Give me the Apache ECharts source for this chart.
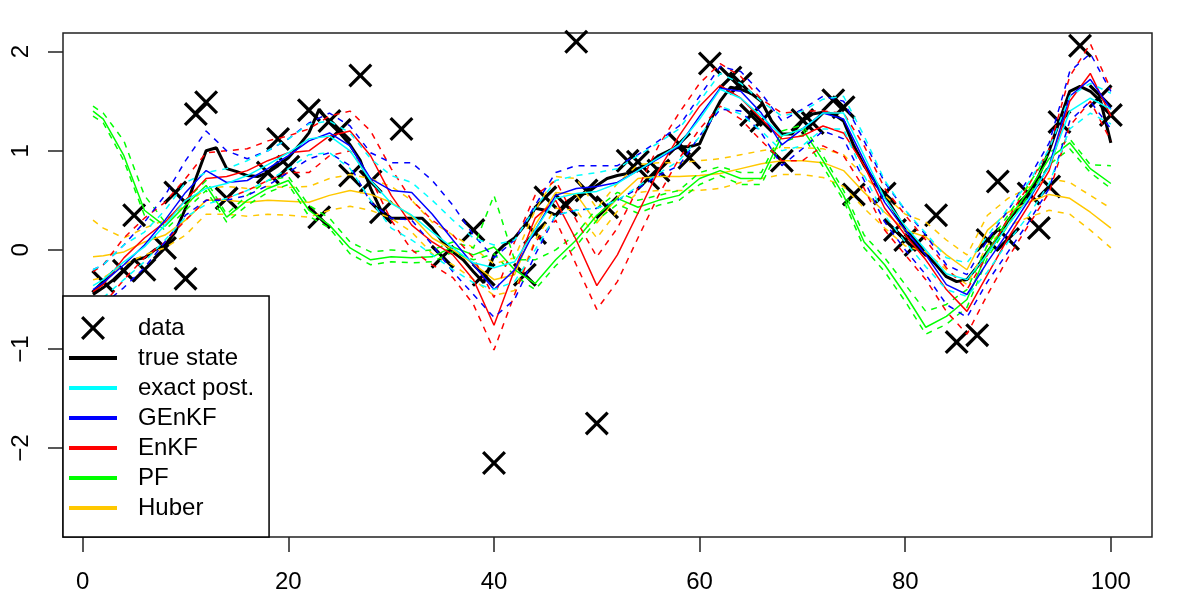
<!DOCTYPE html>
<html>
<head>
<meta charset="utf-8">
<script src="https://cdn.jsdelivr.net/npm/echarts@6/dist/echarts.min.js"></script>
<style>
  html, body { margin: 0; background: #fff; }
  #chart { width: 1200px; height: 600px; }
</style>
</head>
<body>
<div id="chart"></div>
<script>
// observations (time, value)
const dataT = [2, 4, 5, 6, 8, 9, 10, 11, 12, 14, 18, 19, 20, 22, 23, 24, 25, 26, 27, 28, 29, 31, 35, 38, 39, 40,
  43, 44, 45, 47, 48, 49, 50, 51, 53, 54, 55, 56, 58, 59, 61, 63, 64, 65, 66, 68, 70, 71, 73, 74, 75,
  78, 79, 80, 81, 83, 85, 87, 88, 89, 90, 92, 93, 94, 95, 97, 99, 100];
const dataY = [-0.32, -0.21, 0.35, -0.2, 0.02, 0.58, -0.29, 1.37, 1.49, 0.52, 0.78, 1.12, 0.84, 1.41, 0.33, 1.3, 1.21, 0.75, 1.76, 0.69, 0.38, 1.22, -0.07, 0.2, -0.25, -2.15,
  -0.25, 0.17, 0.53, 0.45, 2.1, 0.6, -1.75, 0.43, 0.9, 0.89, 0.72, 0.8, 1.07, 0.93, 1.88, 1.74, 1.68, 1.36, 1.3, 0.9, 1.31, 1.28, 1.51, 1.44, 0.56,
  0.57, 0.2, 0.1, 0.05, 0.35, -0.93, -0.86, 0.1, 0.69, 0.11, 0.57, 0.22, 0.64, 1.29, 2.06, 1.55, 1.36];

// true state, t = 1..100
const trueT = Array.from({ length: 100 }, (_, i) => i + 1);
const trueY = [-0.45, -0.38, -0.3, -0.2, -0.1, -0.08, 0.0, 0.05, 0.18, 0.42,
  0.72, 1.0, 1.03, 0.82, 0.79, 0.75, 0.74, 0.78, 0.85, 0.93,
  1.05, 1.18, 1.42, 1.28, 1.18, 1.06, 0.9, 0.62, 0.4, 0.32,
  0.32, 0.32, 0.32, 0.22, 0.08, -0.02, -0.1, -0.22, -0.33, -0.05,
  0.05, 0.12, 0.25, 0.42, 0.4, 0.35, 0.48, 0.55, 0.57, 0.65,
  0.72, 0.75, 0.77, 0.82, 0.86, 0.95, 1.0, 1.04, 1.04, 1.07,
  1.3, 1.5, 1.64, 1.62, 1.58, 1.5, 1.3, 1.17, 1.17, 1.3,
  1.37, 1.39, 1.37, 1.3, 1.05, 0.85, 0.7, 0.55, 0.38, 0.2,
  0.1, -0.04, -0.15, -0.27, -0.32, -0.3, -0.17, -0.02, 0.12, 0.3,
  0.42, 0.55, 0.75, 1.0, 1.3, 1.6, 1.65, 1.6, 1.5, 1.08];

// filter estimates on a common time grid
const gridT = [1, 2, 4, 6, 8, 10, 12, 14, 16, 18, 20, 22, 24, 26, 28, 30, 32, 34, 36, 38, 40, 42, 44, 46, 48, 50,
  52, 54, 56, 58, 60, 62, 64, 66, 68, 70, 72, 74, 76, 78, 80, 82, 84, 86, 88, 90, 92, 94, 96, 98, 100];

const exactMean = [-0.36, -0.3, -0.12, 0.03, 0.25, 0.5, 0.62, 0.67, 0.75, 0.86, 0.98, 1.12, 1.15, 1.0, 0.7, 0.47, 0.35, 0.18, 0.02, -0.13, -0.18, -0.12, 0.2, 0.52, 0.57, 0.59,
  0.67, 0.8, 0.93, 1.06, 1.32, 1.62, 1.53, 1.35, 1.15, 1.22, 1.38, 1.38, 0.95, 0.52, 0.24, 0.0, -0.24, -0.3, -0.04, 0.25, 0.52, 0.84, 1.4, 1.53, 1.42];
const exactUp = [-0.2, -0.15, 0.05, 0.18, 0.4, 0.68, 0.78, 0.82, 0.9, 1.0, 1.12, 1.27, 1.3, 1.18, 0.92, 0.75, 0.68, 0.5, 0.3, 0.12, 0.05, 0.1, 0.42, 0.7, 0.75, 0.78,
  0.82, 0.95, 1.08, 1.22, 1.5, 1.78, 1.68, 1.5, 1.35, 1.4, 1.52, 1.55, 1.15, 0.7, 0.4, 0.17, -0.08, -0.13, 0.14, 0.42, 0.68, 1.02, 1.55, 1.68, 1.58];
const exactLo = [-0.55, -0.48, -0.3, -0.12, 0.1, 0.33, 0.46, 0.52, 0.6, 0.7, 0.82, 0.96, 0.98, 0.82, 0.5, 0.22, 0.1, -0.05, -0.2, -0.33, -0.4, -0.32, 0.0, 0.35, 0.4, 0.42,
  0.5, 0.64, 0.77, 0.9, 1.14, 1.45, 1.37, 1.2, 1.0, 1.05, 1.22, 1.22, 0.75, 0.35, 0.08, -0.17, -0.4, -0.47, -0.22, 0.08, 0.35, 0.67, 1.22, 1.38, 1.27];

const genkfMean = [-0.4, -0.33, -0.15, 0.05, 0.3, 0.58, 0.8, 0.68, 0.7, 0.82, 0.95, 1.1, 1.18, 1.05, 0.72, 0.6, 0.58, 0.36, 0.1, -0.15, -0.4, -0.2, 0.2, 0.55, 0.62, 0.64,
  0.68, 0.8, 0.92, 1.05, 1.35, 1.63, 1.6, 1.38, 1.06, 1.22, 1.38, 1.32, 0.9, 0.48, 0.2, -0.05, -0.35, -0.45, -0.12, 0.18, 0.5, 0.85, 1.55, 1.72, 1.42];
const genkfUp = [-0.2, -0.15, 0.05, 0.28, 0.55, 0.9, 1.2, 1.0, 0.92, 1.0, 1.12, 1.28, 1.38, 1.25, 0.98, 0.88, 0.88, 0.7, 0.45, 0.15, -0.08, 0.1, 0.45, 0.78, 0.85, 0.85,
  0.85, 0.96, 1.1, 1.25, 1.55, 1.85, 1.8, 1.58, 1.3, 1.42, 1.55, 1.5, 1.1, 0.68, 0.4, 0.15, -0.15, -0.25, 0.1, 0.4, 0.72, 1.08, 1.8, 1.98, 1.6];
const genkfLo = [-0.62, -0.55, -0.38, -0.18, 0.08, 0.35, 0.5, 0.5, 0.55, 0.65, 0.78, 0.92, 0.98, 0.85, 0.48, 0.32, 0.3, 0.05, -0.22, -0.45, -0.68, -0.5, -0.05, 0.35, 0.4, 0.42,
  0.5, 0.62, 0.75, 0.85, 1.15, 1.42, 1.4, 1.18, 0.85, 1.02, 1.2, 1.12, 0.7, 0.28, 0.0, -0.25, -0.55, -0.68, -0.32, -0.02, 0.28, 0.62, 1.3, 1.5, 1.22];

const enkfMean = [-0.42, -0.35, -0.08, 0.12, 0.28, 0.5, 0.72, 0.74, 0.8, 0.9, 0.98, 1.0, 1.15, 1.2, 0.95, 0.55, 0.25, 0.08, -0.05, -0.3, -0.76, -0.2, 0.32, 0.5, 0.1, -0.36,
  -0.05, 0.37, 0.8, 1.15, 1.45, 1.66, 1.53, 1.32, 1.12, 1.15, 1.25, 1.18, 0.85, 0.42, 0.15, -0.1, -0.4, -0.62, -0.25, 0.12, 0.45, 0.8, 1.5, 1.78, 1.35];
const enkfUp = [-0.22, -0.15, 0.12, 0.32, 0.48, 0.72, 0.98, 1.0, 1.02, 1.1, 1.15, 1.22, 1.35, 1.4, 1.2, 0.82, 0.5, 0.3, 0.15, -0.08, -0.48, 0.08, 0.55, 0.7, 0.3, -0.07,
  0.22, 0.62, 1.05, 1.38, 1.68, 1.88, 1.75, 1.52, 1.38, 1.4, 1.4, 1.38, 1.05, 0.62, 0.35, 0.1, -0.18, -0.4, -0.05, 0.32, 0.65, 1.02, 1.75, 2.08, 1.62];
const enkfLo = [-0.62, -0.55, -0.3, -0.08, 0.08, 0.3, 0.5, 0.52, 0.6, 0.7, 0.78, 0.78, 0.95, 1.0, 0.72, 0.3, 0.0, -0.15, -0.28, -0.55, -1.01, -0.45, 0.08, 0.3, -0.15, -0.6,
  -0.32, 0.12, 0.55, 0.92, 1.22, 1.45, 1.32, 1.1, 0.9, 0.9, 1.05, 0.95, 0.62, 0.2, -0.05, -0.3, -0.62, -0.85, -0.45, -0.08, 0.25, 0.58, 1.25, 1.5, 1.1];

const pfMean = [1.4, 1.32, 0.95, 0.4, 0.24, 0.45, 0.65, 0.33, 0.5, 0.62, 0.7, 0.4, 0.25, 0.02, -0.1, -0.07, -0.08, -0.07, 0.03, -0.05, 0.03, -0.2, -0.34, -0.1, 0.1, 0.35,
  0.52, 0.43, 0.5, 0.55, 0.72, 0.8, 0.72, 0.72, 1.15, 1.22, 0.9, 0.55, 0.08, -0.15, -0.45, -0.78, -0.67, -0.5, -0.02, 0.3, 0.6, 0.92, 1.08, 0.82, 0.67];
const pfUp = [1.45, 1.38, 1.1, 0.55, 0.28, 0.5, 0.7, 0.36, 0.55, 0.7, 0.74, 0.45, 0.32, 0.08, -0.02, 0.0, -0.02, 0.0, 0.08, 0.02, 0.55, -0.1, -0.1, 0.0, 0.16, 0.42,
  0.58, 0.5, 0.55, 0.6, 0.78, 0.84, 0.78, 0.78, 1.2, 1.26, 0.95, 0.6, 0.15, -0.08, -0.35, -0.62, -0.55, -0.4, 0.05, 0.35, 0.66, 0.98, 1.12, 0.86, 0.85];
const pfLo = [1.35, 1.28, 0.9, 0.35, 0.2, 0.4, 0.6, 0.28, 0.45, 0.58, 0.66, 0.34, 0.22, -0.04, -0.15, -0.12, -0.13, -0.12, -0.02, -0.1, -0.04, -0.26, -0.4, -0.16, 0.04, 0.3,
  0.46, 0.37, 0.45, 0.5, 0.66, 0.75, 0.66, 0.66, 1.08, 1.16, 0.84, 0.5, 0.02, -0.22, -0.52, -0.85, -0.75, -0.58, -0.08, 0.25, 0.55, 0.86, 1.02, 0.78, 0.62];

const huberMean = [-0.07, -0.06, -0.02, 0.08, 0.15, 0.3, 0.5, 0.5, 0.48, 0.5, 0.49, 0.48, 0.55, 0.6, 0.56, 0.48, 0.34, 0.12, 0.0, -0.14, -0.3, -0.25, 0.25, 0.58, 0.56, 0.27,
  0.53, 0.72, 0.74, 0.74, 0.75, 0.77, 0.82, 0.87, 0.9, 0.9, 0.88, 0.8, 0.58, 0.38, 0.2, 0.13, -0.05, -0.2, 0.2, 0.38, 0.48, 0.56, 0.52, 0.38, 0.22];
const huberUp = [0.3, 0.22, 0.12, 0.22, 0.3, 0.45, 0.62, 0.64, 0.62, 0.64, 0.63, 0.64, 0.72, 0.76, 0.72, 0.64, 0.5, 0.28, 0.15, 0.02, -0.14, -0.08, 0.4, 0.74, 0.72, 0.42,
  0.67, 0.86, 0.88, 0.88, 0.9, 0.92, 0.96, 1.0, 1.03, 1.03, 1.02, 0.96, 0.74, 0.55, 0.36, 0.28, 0.1, -0.05, 0.35, 0.52, 0.63, 0.72, 0.68, 0.55, 0.42];
const huberLo = [-0.3, -0.28, -0.15, -0.05, 0.02, 0.15, 0.36, 0.36, 0.34, 0.36, 0.35, 0.33, 0.4, 0.44, 0.4, 0.32, 0.18, -0.04, -0.15, -0.3, -0.46, -0.41, 0.1, 0.42, 0.4, 0.12,
  0.39, 0.58, 0.6, 0.6, 0.6, 0.62, 0.68, 0.72, 0.76, 0.76, 0.73, 0.64, 0.42, 0.22, 0.04, -0.02, -0.2, -0.35, 0.05, 0.24, 0.33, 0.4, 0.36, 0.2, 0.02];

const FONT = 'Liberation Sans, Arial, Helvetica, sans-serif';
const crossPath = 'path://M0,2.3 L2.3,0 L12,9.7 L21.7,0 L24,2.3 L14.3,12 L24,21.7 L21.7,24 L12,14.3 L2.3,24 L0,21.7 L9.7,12 Z';
const lineIcon = 'path://M0,0 L48,0 L48,4 L0,4 Z';

function pairs(xs, ys) {
  return xs.map((x, i) => [x, ys[i]]);
}

function curve(name, ys, color, dashed) {
  return {
    name: name,
    type: 'line',
    data: pairs(gridT, ys),
    symbol: 'none',
    silent: true,
    lineStyle: { color: color, width: 1.5, type: dashed ? [6, 6] : 'solid' },
    itemStyle: { color: color }
  };
}

function withBands(name, mean, up, lo, color) {
  return [
    curve(name + ' upper', up, color, true),
    curve(name + ' lower', lo, color, true),
    curve(name, mean, color, false)
  ];
}

const series = [
  {
    name: 'data',
    type: 'scatter',
    data: pairs(dataT, dataY),
    symbol: crossPath,
    symbolSize: 24,
    itemStyle: { color: '#000', opacity: 1 },
    silent: true
  },
  {
    name: 'true state',
    type: 'line',
    data: pairs(trueT, trueY),
    symbol: 'none',
    silent: true,
    lineStyle: { color: '#000', width: 3 },
    itemStyle: { color: '#000' }
  }
].concat(
  withBands('Huber', huberMean, huberUp, huberLo, '#FFC800'),
  withBands('PF', pfMean, pfUp, pfLo, '#00FF00'),
  withBands('EnKF', enkfMean, enkfUp, enkfLo, '#FF0000'),
  withBands('GEnKF', genkfMean, genkfUp, genkfLo, '#0000FF'),
  withBands('exact post.', exactMean, exactUp, exactLo, '#00FFFF')
);

const legendNames = ['true state', 'exact post.', 'GEnKF', 'EnKF', 'PF', 'Huber'];

const chart = echarts.init(document.getElementById('chart'));
chart.setOption({
  animation: false,
  backgroundColor: '#fff',
  grid: {
    left: 63, right: 48, top: 33, bottom: 63,
    show: true, borderColor: '#222', borderWidth: 1.5
  },
  xAxis: {
    type: 'value',
    min: -1.92,
    max: 104,
    splitLine: { show: false },
    axisLine: { show: false, onZero: false },
    axisTick: { show: true, length: 15, lineStyle: { color: '#222', width: 1.5 }, customValues: [0, 20, 40, 60, 80, 100] },
    axisLabel: { customValues: [0, 20, 40, 60, 80, 100], fontSize: 24, color: '#000', fontFamily: FONT, margin: 33 }
  },
  yAxis: {
    type: 'value',
    min: -2.896,
    max: 2.188,
    splitLine: { show: false },
    axisLine: { show: false, onZero: false },
    axisTick: { show: true, length: 15, lineStyle: { color: '#222', width: 1.5 }, customValues: [-2, -1, 0, 1, 2] },
    axisLabel: {
      customValues: [-2, -1, 0, 1, 2], fontSize: 24, color: '#000', fontFamily: FONT, margin: 30, rotate: 90,
      formatter: v => (v < 0 ? '\u2212' + Math.abs(v) : String(v))
    }
  },
  legend: {
    left: 63,
    top: 296,
    orient: 'vertical',
    selectedMode: false,
    padding: [20, 15, 17, 6],
    itemWidth: 48,
    itemHeight: 24,
    itemGap: 6,
    borderColor: '#000',
    borderWidth: 1.5,
    backgroundColor: '#fff',
    textStyle: { fontSize: 24, color: '#000', fontFamily: FONT, lineHeight: 24, padding: [0, 0, 0, 16] },
    data: [{ name: 'data' }].concat(legendNames.map(n => ({ name: n, icon: lineIcon }))),
    z: 10
  },
  series: series
});
</script>
</body>
</html>
